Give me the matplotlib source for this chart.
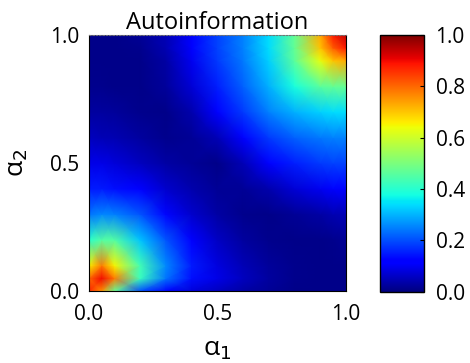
import numpy as np
import matplotlib.pyplot as plt

plt.rcParams['font.family'] = ['Open Sans', 'DejaVu Sans']

# grid positions along alpha_1 (columns) and alpha_2 (rows)
grid = [0.0, 0.05, 0.1, 0.2, 0.3, 0.4, 0.5, 0.6, 0.7, 0.8, 0.9, 0.95, 1.0]

# autoinformation values, rows from alpha_2 = 0 up to 1
z_a2_000 = [0.87, 0.75, 0.47, 0.20, 0.12, 0.08, 0.055, 0.035, 0.02, 0.01, 0.01, 0.01, 0.01]
z_a2_005 = [0.80, 0.90, 0.78, 0.42, 0.24, 0.14, 0.09, 0.055, 0.03, 0.015, 0.01, 0.01, 0.01]
z_a2_010 = [0.65, 0.78, 0.65, 0.43, 0.26, 0.15, 0.085, 0.05, 0.025, 0.015, 0.01, 0.01, 0.01]
z_a2_020 = [0.40, 0.45, 0.45, 0.32, 0.21, 0.12, 0.06, 0.03, 0.015, 0.01, 0.01, 0.015, 0.02]
z_a2_030 = [0.24, 0.26, 0.25, 0.21, 0.13, 0.07, 0.035, 0.015, 0.01, 0.02, 0.035, 0.045, 0.05]
z_a2_040 = [0.15, 0.15, 0.14, 0.11, 0.07, 0.04, 0.02, 0.02, 0.04, 0.075, 0.10, 0.11, 0.115]
z_a2_050 = [0.09, 0.09, 0.08, 0.055, 0.035, 0.02, 0.01, 0.05, 0.11, 0.155, 0.18, 0.19, 0.19]
z_a2_060 = [0.055, 0.05, 0.045, 0.03, 0.015, 0.02, 0.05, 0.12, 0.18, 0.22, 0.245, 0.25, 0.25]
z_a2_070 = [0.03, 0.03, 0.025, 0.015, 0.01, 0.04, 0.11, 0.18, 0.25, 0.30, 0.33, 0.34, 0.34]
z_a2_080 = [0.015, 0.015, 0.01, 0.01, 0.025, 0.075, 0.155, 0.22, 0.30, 0.38, 0.46, 0.47, 0.47]
z_a2_090 = [0.01, 0.01, 0.01, 0.01, 0.035, 0.10, 0.18, 0.245, 0.33, 0.46, 0.63, 0.70, 0.73]
z_a2_095 = [0.01, 0.01, 0.01, 0.015, 0.045, 0.11, 0.19, 0.25, 0.34, 0.47, 0.70, 0.81, 0.88]
z_a2_100 = [0.01, 0.01, 0.01, 0.02, 0.05, 0.115, 0.19, 0.25, 0.34, 0.47, 0.73, 0.88, 0.94]

rows = [z_a2_000, z_a2_005, z_a2_010, z_a2_020, z_a2_030, z_a2_040, z_a2_050,
        z_a2_060, z_a2_070, z_a2_080, z_a2_090, z_a2_095, z_a2_100]
ticks = [0.0, 0.5, 1.0]
cb_ticks = [0.0, 0.2, 0.4, 0.6, 0.8, 1.0]

fig = plt.figure(figsize=(4.7, 3.63), dpi=100)
ax = fig.add_axes([0.189, 0.198, 0.547, 0.705])

mesh = ax.pcolormesh(grid, grid, np.array(rows), shading='gouraud',
                     cmap='jet', vmin=0, vmax=1)
ax.set_xlim(0, 1)
ax.set_ylim(0, 1)

ax.set_xticks(ticks)
ax.set_yticks(ticks)
ax.set_xticklabels(['%.1f' % t for t in ticks])
ax.set_yticklabels(['%.1f' % t for t in ticks])
ax.tick_params(axis='x', length=0, labelsize=15, pad=9)
ax.tick_params(axis='y', length=0, labelsize=15, pad=7)
ax.spines['top'].set_linestyle((0, (1.5, 1.5)))
ax.spines['top'].set_color('0.45')

ax.set_title('Autoinformation', fontsize=17, pad=1)
ax.set_xlabel('α$_1$', fontsize=19, labelpad=9)
ax.set_ylabel('α$_2$', fontsize=19, labelpad=14)

cax = fig.add_axes([0.809, 0.196, 0.094, 0.708])
cb = fig.colorbar(mesh, cax=cax, ticks=cb_ticks)
cb.ax.set_yticklabels(['%.1f' % t for t in cb_ticks])
cb.ax.tick_params(direction='in', length=3, labelsize=15, pad=8)
cb.outline.set_linewidth(1.0)

fig.savefig('out.png', dpi=100)
